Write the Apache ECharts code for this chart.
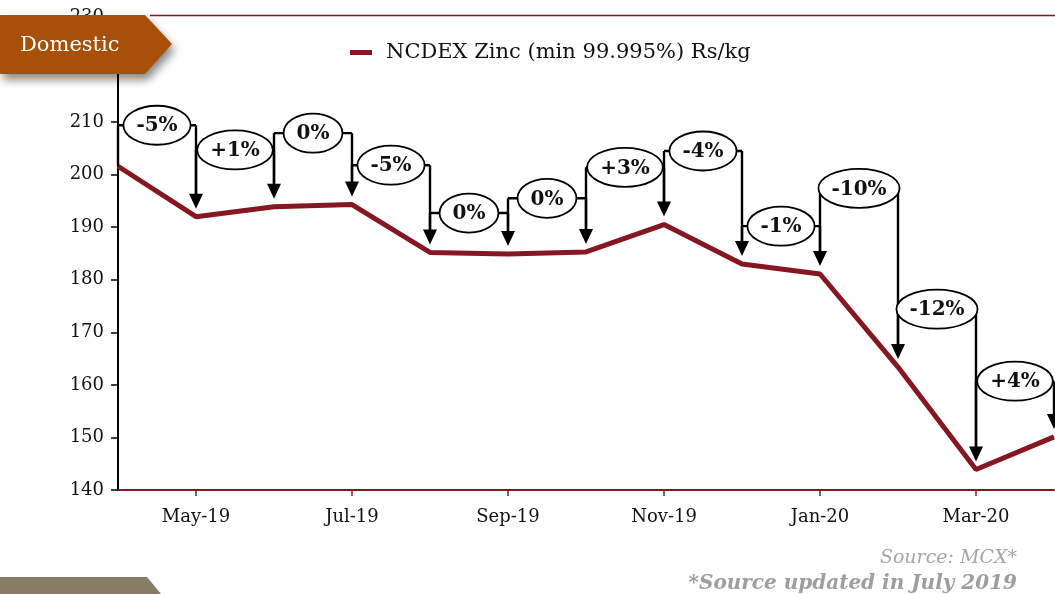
<!DOCTYPE html>
<html>
<head>
<meta charset="utf-8">
<script src="https://cdn.jsdelivr.net/npm/echarts@6/dist/echarts.min.js"></script>
<style>
html,body{margin:0;padding:0;background:#fff;}
#chart{width:1055px;height:594px;}
</style>
</head>
<body>
<div id="chart"></div>
<script>
const months = ['Apr-19','May-19','Jun-19','Jul-19','Aug-19','Sep-19','Oct-19','Nov-19','Dec-19','Jan-20','Feb-20','Mar-20','Apr-20'];
const zincPrice = [201.6, 192.0, 193.9, 194.3, 185.2, 184.9, 185.3, 190.5, 183.0, 181.1, 163.4, 143.9, 150.1];
const changeLabels = ['-5%','+1%','0%','-5%','0%','0%','+3%','-4%','-1%','-10%','-12%','+4%'];
const labelLevels = [209.4, 204.7, 207.9, 201.8, 192.7, 195.5, 201.4, 204.5, 190.2, 197.4, 174.4, 160.7];
const seriesName = 'NCDEX Zinc (min 99.995%) Rs/kg';
const yMin = 140, yMax = 230, yStep = 10;

const MAROON = '#86161f';
const SERIF = '"DejaVu Serif", serif';
const LABEL_FONT = 'bold 20px "DejaVu Serif"';

const measureCtx = document.createElement('canvas').getContext('2d');
function textWidth(t){ measureCtx.font = LABEL_FONT; return measureCtx.measureText(t).width; }

const annData = changeLabels.map((t, i) => [i + 1, labelLevels[i], t]);

const chart = echarts.init(document.getElementById('chart'), null, {renderer: 'canvas'});

function renderAnn(params, api) {
  const i = api.value(0);
  const lvl = api.value(1);
  const txt = changeLabels[i - 1];
  const p0 = api.coord([i - 1, zincPrice[i - 1]]);
  const p1 = api.coord([i, zincPrice[i]]);
  const yl = api.coord([i, lvl])[1];
  const tip1 = p1[1] - 8;
  const tip0 = p0[1] - 8;
  const cx = (p0[0] + p1[0]) / 2;
  const rx = textWidth(txt) / 2 + 13;
  const ry = 19.5;
  const ls = {stroke: '#000', lineWidth: 2.4, fill: null};
  const children = [
    {type: 'line', shape: {x1: p0[0], y1: yl, x2: p0[0], y2: i === 1 ? p0[1] : tip0 - 10}, style: ls},
    {type: 'line', shape: {x1: p0[0], y1: yl, x2: p1[0], y2: yl}, style: ls},
    {type: 'line', shape: {x1: p1[0], y1: yl, x2: p1[0], y2: tip1 - 12}, style: ls},
    {type: 'polygon', shape: {points: [[p1[0] - 7, tip1 - 15], [p1[0] + 7, tip1 - 15], [p1[0], tip1]]}, style: {fill: '#000'}},
    {type: 'ellipse', shape: {cx: cx, cy: yl, rx: rx, ry: ry}, style: {fill: '#fff', stroke: '#000', lineWidth: 1.8}},
    {type: 'text', style: {x: cx, y: yl + 1, text: txt, font: LABEL_FONT, fill: '#111', align: 'center', verticalAlign: 'middle'}}
  ];
  return {type: 'group', children: children};
}

const option = {
  animation: false,
  backgroundColor: '#fff',
  grid: {left: 118, right: 1, top: 17, bottom: 104, containLabel: false},
  legend: {
    data: [seriesName],
    left: 345, top: 37,
    icon: 'rect', itemWidth: 22, itemHeight: 5,
    textStyle: {fontFamily: SERIF, fontSize: 21, color: '#111', padding: [0, 0, 0, 9]}
  },
  xAxis: {
    type: 'category',
    data: months,
    boundaryGap: false,
    axisLine: {lineStyle: {color: MAROON, width: 2}},
    axisTick: {show: true, length: 6, interval: (idx) => idx % 2 === 1, lineStyle: {color: MAROON, width: 1.5}},
    axisLabel: {interval: (idx) => idx % 2 === 1, margin: 18, fontFamily: SERIF, fontSize: 18, color: '#111'},
    splitLine: {show: false}
  },
  yAxis: {
    type: 'value',
    min: yMin, max: yMax, interval: yStep,
    axisLine: {show: true, lineStyle: {color: '#000', width: 2}},
    axisTick: {show: true, length: 7, lineStyle: {color: '#000', width: 1.5}},
    axisLabel: {margin: 14, fontFamily: SERIF, fontSize: 18, color: '#111'},
    splitLine: {show: false}
  },
  series: [
    {
      name: seriesName,
      type: 'line',
      data: zincPrice,
      showSymbol: false,
      symbol: 'none',
      lineStyle: {color: MAROON, width: 5},
      itemStyle: {color: MAROON},
      z: 2
    },
    {
      name: 'changes',
      type: 'custom',
      data: annData,
      renderItem: renderAnn,
      clip: false,
      z: 5,
      silent: true
    }
  ],
  graphic: [
    {type: 'line', z: 50, shape: {x1: 150, y1: 15.5, x2: 1055, y2: 15.5}, style: {stroke: MAROON, lineWidth: 1.5}},
    {type: 'polygon', z: 60, shape: {points: [[0, 15], [145, 15], [172, 44], [145, 74], [0, 74]]},
      style: {fill: '#a85008', shadowBlur: 8, shadowOffsetX: 3, shadowOffsetY: 6, shadowColor: 'rgba(0,0,0,0.45)'}},
    {type: 'text', z: 61, style: {x: 20, y: 46, text: 'Domestic', font: '21px "DejaVu Serif"', fill: '#fff', verticalAlign: 'middle'}},
    {type: 'polygon', z: 60, shape: {points: [[0, 577], [147, 577], [161, 594], [0, 594]]}, style: {fill: '#877d66'}},
    {type: 'text', z: 61, style: {x: 1017, y: 558, text: 'Source: MCX*', font: 'italic 19px "DejaVu Serif"', fill: '#a6a6a6', align: 'right', verticalAlign: 'middle'}},
    {type: 'text', z: 61, style: {x: 1017, y: 584, text: '*Source updated in July 2019', font: 'italic bold 20px "DejaVu Serif"', fill: '#9e9e9e', align: 'right', verticalAlign: 'middle'}}
  ]
};
chart.setOption(option);
</script>
</body>
</html>
